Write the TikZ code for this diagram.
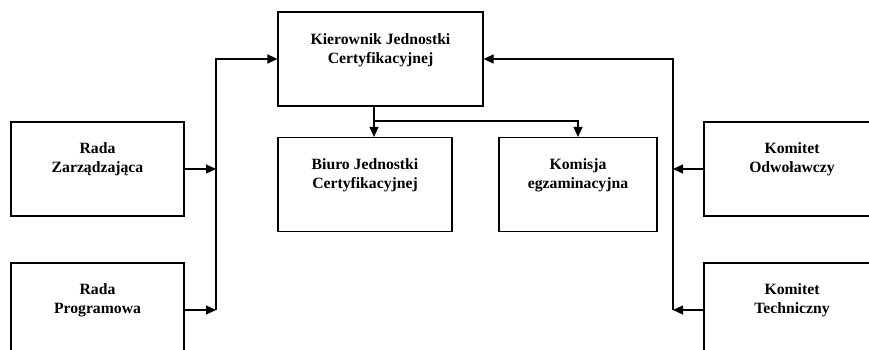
\documentclass[tikz,border=0pt]{standalone}
\usepackage{fontspec}
\setmainfont{Liberation Serif}
\usetikzlibrary{arrows.meta,positioning}

\begin{document}
\begin{tikzpicture}[
    x=1pt, y=-1pt,
    >={Triangle[length=10pt,width=9pt]},
    line width=1.2pt,
    box/.style={draw, minimum height=94pt},
    txt/.style={font=\fontsize{15.7}{19}\selectfont\bfseries, align=center, inner sep=0pt}
]
\useasboundingbox (0,0) rectangle (869,350);
\clip (0,0) rectangle (869,350);

% środek
\node[box, minimum width=205pt] (kier) at (380.5,59) {};
\node[box, minimum width=174pt] (biuro) at (365,184.5) {};
\node[box, minimum width=158pt] (komisja) at (578,184.5) {};

% lewa strona
\node[box, minimum width=173pt] (radaz) at (97.5,169) {};
\node[box, minimum width=173pt] (radap) at (97.5,310) {};

% prawa strona
\node[box, minimum width=176pt] (komo) at (792,169) {};
\node[box, minimum width=176pt] (komt) at (792,310) {};

% napisy
\node[txt] (kier-t)    at ([yshift=9pt]kier.center)    {Kierownik Jednostki\\Certyfikacyjnej};
\node[txt] (biuro-t)   at ([yshift=9pt]biuro.center)   {Biuro Jednostki\\Certyfikacyjnej};
\node[txt] (komisja-t) at ([yshift=9pt]komisja.center) {Komisja\\egzaminacyjna};
\node[txt] (radaz-t)   at ([yshift=10pt]radaz.center)  {Rada\\Zarządzająca};
\node[txt] (radap-t)   at ([yshift=10pt]radap.center)  {Rada\\Programowa};
\node[txt] (komo-t)    at ([yshift=10pt]komo.center)   {Komitet\\Odwoławczy};
\node[txt] (komt-t)    at ([yshift=10pt]komt.center)   {Komitet\\Techniczny};

\coordinate (lbus) at (216,59);
\coordinate (rbus) at (673,59);
\coordinate (dol) at (374,121);

% lewe połączenia
\draw[->] (radaz.east) -- (radaz.east -| lbus);
\draw[->] (radap.east) -- (radap.east -| lbus);
\draw[->] (radap.east -| lbus) -- (lbus) -- (kier.west);

% prawe połączenia
\draw[->] (komo.west) -- (komo.west -| rbus);
\draw[->] (komt.west) -- (komt.west -| rbus);
\draw[->] (komt.west -| rbus) -- (rbus) -- (kier.east);

% w dół od kierownika
\draw[->] (kier.south -| dol) -- (dol) -- (biuro.north -| dol);
\draw[->] (dol) -| (komisja.north);

\end{tikzpicture}
\end{document}
